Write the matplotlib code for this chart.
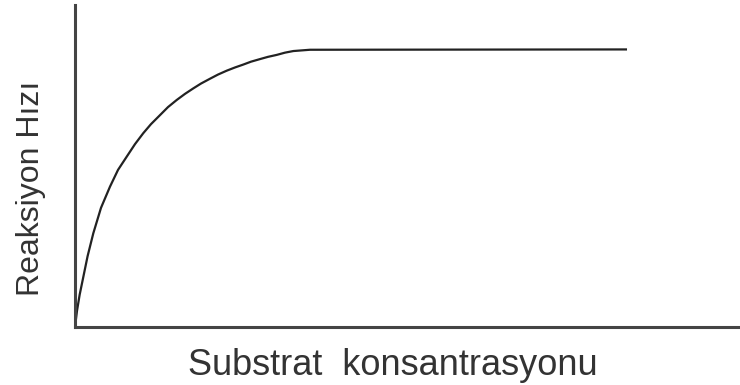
import matplotlib
matplotlib.use("Agg")
import matplotlib.pyplot as plt

# Data (arbitrary units)
substrate = [0, 0.3, 0.7, 1.2, 1.9, 2.76, 3.92, 5.28, 6.49, 7.80, 9.05,
             10.30, 11.46, 12.82, 14.03, 15.34, 16.59, 17.84, 19.00, 20.36, 21.57,
             22.88, 24.13, 25.38, 26.55, 27.90, 29.11, 30.42, 31.67, 32.93, 35.44, 83.26]
rate = [0, 5.0, 10.0, 15.0, 22.0, 29.1, 37.0, 43.6, 48.8, 52.9, 56.8,
        60.2, 63.0, 65.8, 68.3, 70.5, 72.4, 74.1, 75.6, 77.1, 78.4,
        79.6, 80.6, 81.5, 82.4, 83.2, 83.9, 84.5, 85.2, 85.7, 86.1, 86.2]
xlabel = "Substrat  konsantrasyonu"
ylabel = "Reaksiyon Hızı"

plt.rcParams['font.family'] = ['Liberation Sans', 'DejaVu Sans']

fig = plt.figure(figsize=(7.4, 3.85), dpi=100)
ax = fig.add_axes([75/740, (385-327)/385, (738-75)/740, (327-5)/385])

ax.plot(substrate, rate, color="#222222", linewidth=1.6, solid_capstyle='butt',
        solid_joinstyle='round')

ax.set_xlim(0, 100)
ax.set_ylim(0, 100)
ax.set_xticks([])
ax.set_yticks([])
for s in ['top', 'right']:
    ax.spines[s].set_visible(False)
for s in ['left', 'bottom']:
    ax.spines[s].set_linewidth(2.2)
    ax.spines[s].set_color("#444444")

ax.text(0.480, -0.149, xlabel, transform=ax.transAxes, fontsize=26,
        color="#333333", ha='center', va='baseline')
ax.text(-0.0664, 0.429, ylabel, transform=ax.transAxes, fontsize=23,
        color="#333333", ha='center', va='center', rotation=90)

fig.savefig("out.png", dpi=100)
